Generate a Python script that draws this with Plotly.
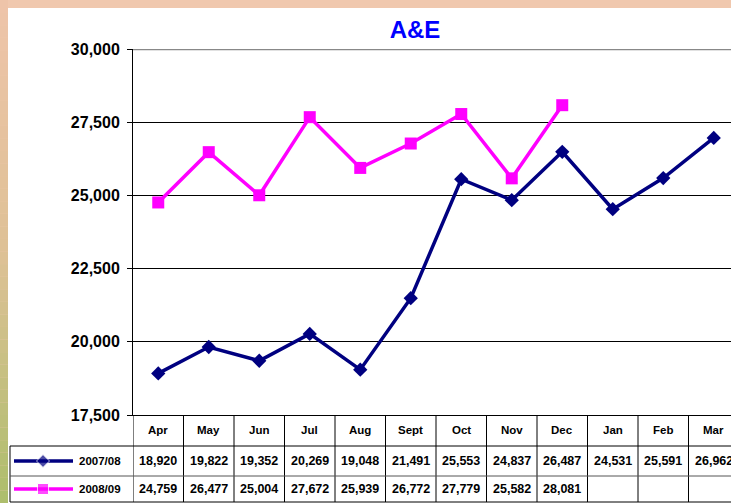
import plotly.graph_objects as go

# A&E attendances by month, two financial years
months = ["Apr", "May", "Jun", "Jul", "Aug", "Sept", "Oct", "Nov", "Dec", "Jan", "Feb", "Mar"]
series_0708 = [18920, 19822, 19352, 20269, 19048, 21491, 25553, 24837, 26487, 24531, 25591, 26962]
series_0809 = [24759, 26477, 25004, 27672, 25939, 26772, 27779, 25582, 28081]
series_names = ["2007/08", "2008/09"]
y_ticks = [17500, 20000, 22500, 25000, 27500, 30000]

W, H = 731, 503
NAVY = "#000080"
MAGENTA = "#FF00FF"
FONT = "Arial, Liberation Sans, sans-serif"


def px_x(p):
    return p / W


def px_y(p):
    return 1 - p / H


def mix(c1, c2, t):
    a = [int(c1[i:i + 2], 16) for i in (1, 3, 5)]
    b = [int(c2[i:i + 2], 16) for i in (1, 3, 5)]
    return "rgb(%d,%d,%d)" % tuple(round(a[k] + (b[k] - a[k]) * t) for k in range(3))


fig = go.Figure()

fig.add_trace(go.Scatter(
    x=months, y=series_0708, name=series_names[0], mode="lines+markers",
    line=dict(color=NAVY, width=3.5),
    marker=dict(symbol="diamond", size=11, color=NAVY),
    cliponaxis=False,
))
fig.add_trace(go.Scatter(
    x=months[:len(series_0809)], y=series_0809, name=series_names[1], mode="lines+markers",
    line=dict(color=MAGENTA, width=3.5),
    marker=dict(symbol="square", size=12, color=MAGENTA),
    cliponaxis=False,
))

# legend keys inside the data table (pixel space overlay axis)
row_y = [461, 489]
for name, color, sym, yy in [(series_names[0], NAVY, "diamond", row_y[0]),
                              (series_names[1], MAGENTA, "square", row_y[1])]:
    fig.add_trace(go.Scatter(
        x=[14, 43, 73], y=[yy, yy, yy], mode="lines+markers",
        line=dict(color=color, width=3.5),
        marker=dict(symbol=sym, size=[0, 10 if sym == "diamond" else 11, 0], color=color),
        xaxis="x2", yaxis="y2", showlegend=False, hoverinfo="skip",
    ))

shapes = []
# slide background: peach top band, gradient strip on the left
n_bands = 40
for i in range(n_bands):
    t = i / (n_bands - 1)
    if t < 0.5:
        col = mix("#EEC4A9", "#DEC196", t / 0.5)
    else:
        col = mix("#DEC196", "#AEBE6D", (t - 0.5) / 0.5)
    shapes.append(dict(type="rect", xref="paper", yref="paper",
                       x0=0, x1=px_x(8), y0=px_y(H * (i + 1) / n_bands), y1=px_y(H * i / n_bands),
                       fillcolor=col, line_width=0, layer="below"))
shapes.append(dict(type="rect", xref="paper", yref="paper", x0=px_x(8), x1=1, y0=0, y1=px_y(8),
                   fillcolor="white", line_width=0, layer="below"))

# grey top border of the plot area
shapes.append(dict(type="line", xref="paper", yref="y", x0=px_x(133), x1=1, y0=30000, y1=30000,
                   line=dict(color="#888888", width=2.5)))

# data table grid
table_bottom = px_y(502)
for i in range(len(months)):
    shapes.append(dict(type="line", xref="x", yref="paper", x0=i - 0.5, x1=i - 0.5,
                       y0=table_bottom, y1=px_y(415), line=dict(color="black", width=1)))
shapes.append(dict(type="line", xref="paper", yref="paper", x0=px_x(10), x1=px_x(10),
                   y0=table_bottom, y1=px_y(446), line=dict(color="black", width=1)))
for yy, col in [(446, "black"), (476, "#555555"), (502, "black")]:
    shapes.append(dict(type="line", xref="paper", yref="paper", x0=px_x(10), x1=1,
                       y0=px_y(yy), y1=px_y(yy), line=dict(color=col, width=1)))

annotations = []
for m in months:
    annotations.append(dict(x=m, xref="x", y=px_y(430), yref="paper", yanchor="middle",
                            text="<b>%s</b>" % m, showarrow=False,
                            font=dict(family=FONT, size=11.5, color="black")))
for vals, yy in [(series_0708, row_y[0]), (series_0809, row_y[1])]:
    for m, v in zip(months, vals):
        annotations.append(dict(x=m, xref="x", y=px_y(yy), yref="paper", yanchor="middle",
                                text="<b>{:,}</b>".format(v), showarrow=False,
                                font=dict(family=FONT, size=12.5, color="black")))
for name, yy in zip(series_names, row_y):
    annotations.append(dict(x=px_x(77), xref="paper", y=px_y(yy), yref="paper",
                            xanchor="left", yanchor="middle",
                            text="<b>%s</b>" % name, showarrow=False,
                            font=dict(family=FONT, size=11.5, color="black")))

fig.update_layout(
    width=W, height=H,
    autosize=False,
    margin=dict(l=0, r=0, t=0, b=0, pad=0, autoexpand=False),
    paper_bgcolor="#F0C8AE",
    plot_bgcolor="rgba(0,0,0,0)",
    showlegend=False,
    title=dict(text="<b>A&E</b>", x=px_x(415), xanchor="center", y=px_y(30), yanchor="middle",
               font=dict(family=FONT, size=24, color="#0000FF"), automargin=False),
    xaxis=dict(type="category", domain=[px_x(133), 1], range=[-0.5, -0.5 + (W - 133) / 50.5],
               showticklabels=False, ticks="", showgrid=False, zeroline=False, automargin=False,
               showline=True, linecolor="black", linewidth=1),
    yaxis=dict(domain=[px_y(415), px_y(49)], range=[17500, 30000], tickvals=y_ticks,
               tickformat=",", ticks="outside", ticklen=5, tickcolor="black",
               showgrid=True, gridcolor="black", gridwidth=1, zeroline=False, automargin=False,
               showline=True, linecolor="black", linewidth=1,
               tickfont=dict(family=FONT, size=16, color="black", weight="bold"),
               ticklabelstandoff=4),
    xaxis2=dict(domain=[0, 1], range=[0, W], visible=False, anchor="y2", automargin=False),
    yaxis2=dict(domain=[0, 1], range=[H, 0], visible=False, anchor="x2", automargin=False),
    shapes=shapes,
    annotations=annotations,
)

# drop the default page margin so the figure sits in the window corner
fig.write_html(
    "out.html",
    config={"displayModeBar": False},
    post_script="document.body.style.margin='0';document.body.style.overflow='hidden';",
)
